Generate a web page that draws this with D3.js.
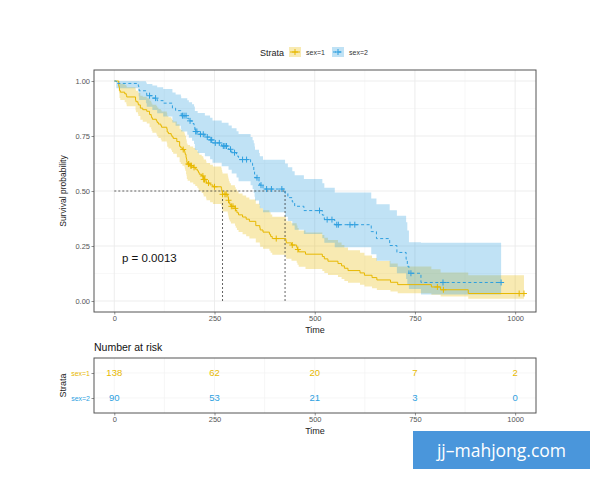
<!DOCTYPE html>
<head>
    <meta charset="utf-8">
    <title>Survival by sex</title>
    <script type="text/javascript" src="https://d3js.org/d3.v7.min.js"></script>
    <style>
        body { margin: 0; background: #fff; }
        svg text { font-family: "Liberation Sans", Arial, sans-serif; }
    </style>
</head>
<body>
<div id="container"></div>
<script>
    //-----------------------------DATA------------------------------//
    const strata = ["sex=1", "sex=2"];
    const colors = ["#E7B800", "#2E9FDF"];

    // sex=1 : event times, survival, 95% CI
    const times1 = [0, 11, 12, 13, 15, 26, 30, 31, 53, 54,
        59, 60, 65, 71, 81, 88, 92, 93, 95, 105,
        107, 110, 116, 118, 131, 132, 135, 142, 144, 147,
        156, 163, 166, 170, 175, 176, 177, 179, 180, 181,
        183, 189, 197, 202, 207, 210, 212, 218, 222, 223,
        229, 230, 239, 246, 267, 268, 269, 270, 283, 284,
        285, 286, 288, 291, 301, 303, 306, 310, 320, 329,
        337, 353, 363, 364, 371, 387, 390, 394, 428, 429,
        442, 455, 457, 460, 477, 519, 524, 533, 558, 567,
        574, 583, 613, 624, 643, 655, 689, 707, 791, 814,
        883];
    const surv1 = [1, .9783, .9710, .9565, .9493, .9420, .9348, .9275, .9130, .9058,
        .8986, .8913, .8768, .8696, .8623, .8478, .8406, .8333, .8261, .8188,
        .8116, .8043, .7971, .7899, .7826, .7681, .7609, .7536, .7464, .7391,
        .7246, .7029, .6957, .6884, .6811, .6738, .6664, .6518, .6445, .6298,
        .6225, .6150, .6073, .5995, .5917, .5839, .5762, .5684, .5605, .5525,
        .5442, .5360, .5276, .5192, .5107, .5022, .4937, .4850, .4760, .4670,
        .4579, .4487, .4396, .4304, .4209, .4111, .4013, .3915, .3817, .3719,
        .3621, .3425, .3327, .3229, .3131, .3034, .2936, .2838, .2740, .2642,
        .2544, .2442, .2341, .2234, .2128, .2022, .1915, .1809, .1702, .1596,
        .1489, .1383, .1277, .1170, .1064, .0957, .0851, .0745, .0638, .0511,
        .0340];
    const lower1 = [1, .9542, .9434, .9231, .9134, .9038, .8945, .8853, .8672, .8583,
        .8496, .8409, .8237, .8152, .8067, .7900, .7817, .7734, .7652, .7570,
        .7489, .7408, .7328, .7247, .7167, .7008, .6929, .6851, .6772, .6694,
        .6538, .6306, .6230, .6153, .6076, .5999, .5922, .5769, .5693, .5541,
        .5466, .5388, .5309, .5228, .5148, .5068, .4988, .4909, .4829, .4747,
        .4663, .4579, .4494, .4409, .4323, .4238, .4152, .4065, .3975, .3885,
        .3792, .3701, .3610, .3520, .3424, .3327, .3230, .3133, .3037, .2941,
        .2846, .2657, .2563, .2470, .2376, .2284, .2193, .2101, .2011, .1922,
        .1833, .1740, .1648, .1553, .1458, .1364, .1272, .1181, .1090, .1001,
        .0914, .0828, .0743, .0661, .0581, .0503, .0427, .0354, .0284, .0202,
        .0099];
    const upper1 = [1, 1, .999, .991, .987, .982, .977, .972, .961, .956,
        .950, .945, .933, .928, .922, .910, .904, .898, .892, .886,
        .880, .873, .867, .861, .855, .842, .835, .829, .823, .816,
        .803, .783, .777, .770, .763, .757, .750, .736, .730, .716,
        .709, .702, .695, .687, .680, .673, .665, .658, .651, .643,
        .635, .627, .619, .611, .603, .595, .587, .579, .570, .561,
        .553, .544, .535, .526, .517, .508, .499, .489, .480, .470,
        .461, .442, .432, .422, .413, .403, .393, .383, .373, .363,
        .353, .343, .332, .321, .311, .300, .288, .277, .266, .254,
        .243, .231, .219, .207, .195, .182, .170, .157, .144, .129,
        .117];
    const censor1 = [172, 185, 186, 191, 192, 199, 221, 223, 225, 226, 235, 250, 270,
        276, 279, 285, 292, 296, 302, 404, 444, 458, 806, 821, 1010, 1022];

    // sex=2
    const times2 = [0, 5, 60, 61, 62, 79, 81, 95, 107, 122,
        145, 153, 166, 167, 182, 186, 194, 199, 201, 208,
        226, 239, 245, 268, 285, 293, 305, 310, 340, 345,
        348, 350, 351, 361, 363, 371, 426, 433, 444, 450,
        473, 519, 524, 550, 641, 654, 687, 705, 728, 731,
        735, 765];
    const surv2 = [1, .9889, .9778, .9667, .9556, .9444, .9333, .9221, .9107, .8993,
        .8766, .8652, .8538, .8424, .8305, .8187, .8066, .7946, .7705, .7581,
        .7452, .7322, .7186, .7045, .6895, .6742, .6585, .6428, .6264, .6099,
        .5934, .5769, .5604, .5434, .5265, .5089, .4893, .4698, .4502, .4306,
        .4110, .3905, .3699, .3468, .3153, .2837, .2522, .2207, .1891, .1576,
        .1261, .0841];
    const lower2 = [1, .9675, .9478, .9303, .9139, .8983, .8832, .8683, .8535, .8390,
        .8108, .7970, .7834, .7699, .7559, .7420, .7280, .7142, .6869, .6729,
        .6584, .6438, .6287, .6129, .5962, .5791, .5618, .5447, .5267, .5089,
        .4913, .4739, .4566, .4390, .4215, .4035, .3832, .3632, .3435, .3241,
        .3050, .2850, .2650, .2440, .2130, .1830, .1540, .1260, .1000, .0750,
        .0550, .0300];
    const upper2 = [1, 1, 1, 1, .999, .993, .986, .979, .972, .964,
        .948, .939, .931, .922, .913, .903, .894, .884, .864, .854,
        .843, .833, .821, .810, .798, .785, .772, .759, .745, .731,
        .717, .702, .688, .673, .658, .642, .625, .608, .590, .572,
        .554, .535, .515, .493, .466, .440, .413, .387, .358, .320,
        .267, .265];
    const censor2 = [88, 103, 170, 174, 179, 189, 203, 206, 215, 222, 232, 241, 243,
        252, 262, 272, 276, 280, 290, 300, 320, 330, 356, 366, 380, 392, 418,
        512, 531, 543, 555, 559, 588, 600, 740, 820, 965];

    const medians = [270, 426];
    const pText = "p = 0.0013";

    // risk table
    const riskTimes = [0, 250, 500, 750, 1000];
    const risk1 = [138, 62, 20, 7, 2];
    const risk2 = [90, 53, 21, 3, 0];

    const xTicks = [0, 250, 500, 750, 1000];
    const xMinor = [125, 375, 625, 875];
    const yTicks = [0, 0.25, 0.5, 0.75, 1];
    const yMinor = [0.125, 0.375, 0.625, 0.875];

    //-----------------------------SVG-------------------------------//
    const width = 600, height = 480;
    const svg = d3.select("div#container").append("svg")
        .attr("width", width)
        .attr("height", height);

    const panel = {left: 94, right: 536, top: 70, bottom: 312};
    const table = {left: 94, right: 536, top: 358, bottom: 413};

    //----------------------------SCALES-----------------------------//
    const xScale = d3.scaleLinear().domain([-50.6, 1052]).range([panel.left, panel.right]);
    const yScale = d3.scaleLinear().domain([-0.05, 1.05]).range([panel.bottom, panel.top]);
    const yRisk = d3.scalePoint().domain(strata).range([table.top, table.bottom]).padding(0.6);

    const groups = [
        {id: strata[0], color: colors[0], dash: null, t: times1, s: surv1, lo: lower1, up: upper1, cens: censor1},
        {id: strata[1], color: colors[1], dash: "3,2.5", t: times2, s: surv2, lo: lower2, up: upper2, cens: censor2}
    ];
    groups.forEach(function(g) {
        g.pts = g.t.map(function(t, i) { return {t: t, s: g.s[i], lo: g.lo[i], up: g.up[i]}; });
        const last = g.pts[g.pts.length - 1];
        g.pts.push({t: d3.max(g.cens), s: last.s, lo: last.lo, up: last.up});
        g.at = function(t) { return g.s[d3.bisectRight(g.t, t) - 1]; };
    });

    //-------------------------MAIN PANEL----------------------------//
    const grid = svg.append("g");
    grid.selectAll(".vminor").data(xMinor).enter().append("line")
        .attr("x1", d => xScale(d)).attr("x2", d => xScale(d))
        .attr("y1", panel.top).attr("y2", panel.bottom)
        .attr("stroke", "#f3f3f3").attr("stroke-width", 0.6);
    grid.selectAll(".hminor").data(yMinor).enter().append("line")
        .attr("y1", d => yScale(d)).attr("y2", d => yScale(d))
        .attr("x1", panel.left).attr("x2", panel.right)
        .attr("stroke", "#f3f3f3").attr("stroke-width", 0.6);
    grid.selectAll(".vmajor").data(xTicks).enter().append("line")
        .attr("x1", d => xScale(d)).attr("x2", d => xScale(d))
        .attr("y1", panel.top).attr("y2", panel.bottom)
        .attr("stroke", "#ebebeb").attr("stroke-width", 0.9);
    grid.selectAll(".hmajor").data(yTicks).enter().append("line")
        .attr("y1", d => yScale(d)).attr("y2", d => yScale(d))
        .attr("x1", panel.left).attr("x2", panel.right)
        .attr("stroke", "#ebebeb").attr("stroke-width", 0.9);

    const band = d3.area().curve(d3.curveStepAfter)
        .x(d => xScale(d.t))
        .y0(d => yScale(d.lo))
        .y1(d => yScale(d.up));
    const line = d3.line().curve(d3.curveStepAfter)
        .x(d => xScale(d.t))
        .y(d => yScale(d.s));

    svg.selectAll(".band").data(groups).enter().append("path")
        .attr("d", d => band(d.pts))
        .attr("fill", d => d.color)
        .attr("fill-opacity", 0.3);

    // median lines
    const med = svg.append("g")
        .attr("stroke", "#222").attr("stroke-width", 0.7)
        .attr("stroke-dasharray", "2,2").attr("fill", "none");
    med.append("line")
        .attr("x1", xScale(0)).attr("x2", xScale(d3.max(medians)))
        .attr("y1", yScale(0.5)).attr("y2", yScale(0.5));
    med.selectAll(".vmed").data(medians).enter().append("line")
        .attr("x1", d => xScale(d)).attr("x2", d => xScale(d))
        .attr("y1", yScale(0.5)).attr("y2", yScale(0));

    svg.selectAll(".curve").data(groups).enter().append("path")
        .attr("d", d => line(d.pts))
        .attr("fill", "none")
        .attr("stroke", d => d.color)
        .attr("stroke-width", 1)
        .attr("stroke-dasharray", d => d.dash);

    // censor marks
    groups.forEach(function(g) {
        svg.append("g").selectAll("path").data(g.cens).enter().append("path")
            .attr("d", function(t) {
                const cx = xScale(t), cy = yScale(g.at(t));
                return `M${cx - 3},${cy}H${cx + 3}M${cx},${cy - 3}V${cy + 3}`;
            })
            .attr("stroke", g.color)
            .attr("stroke-width", 1);
    });

    svg.append("text")
        .attr("x", 122).attr("y", 262)
        .attr("font-size", 11.5).attr("fill", "#111")
        .text(pText);

    svg.append("rect")
        .attr("x", panel.left).attr("y", panel.top)
        .attr("width", panel.right - panel.left).attr("height", panel.bottom - panel.top)
        .attr("fill", "none").attr("stroke", "#555").attr("stroke-width", 1);

    //-----------------------------AXES------------------------------//
    function styleAxis(g) {
        g.select(".domain").remove();
        g.selectAll(".tick line").attr("stroke", "#444").attr("stroke-width", 0.6);
        g.selectAll(".tick text").attr("fill", "#555").attr("font-size", 7.5)
            .attr("font-family", '"Liberation Sans", Arial, sans-serif');
    }

    svg.append("g")
        .attr("transform", `translate(0, ${panel.bottom})`)
        .call(d3.axisBottom(xScale).tickValues(xTicks).tickFormat(d3.format("d")).tickSize(2.5).tickPadding(1.2))
        .call(styleAxis);
    svg.append("g")
        .attr("transform", `translate(${panel.left}, 0)`)
        .call(d3.axisLeft(yScale).tickValues(yTicks).tickFormat(d3.format(".2f")).tickSize(2.5).tickPadding(1.5))
        .call(styleAxis);

    svg.append("text")
        .attr("x", (panel.left + panel.right) / 2).attr("y", 333)
        .attr("text-anchor", "middle").attr("font-size", 9).attr("fill", "#222")
        .text("Time");
    svg.append("text")
        .attr("transform", `translate(66, ${(panel.top + panel.bottom) / 2}) rotate(-90)`)
        .attr("text-anchor", "middle").attr("font-size", 8.5).attr("fill", "#222")
        .text("Survival probability");

    //----------------------------LEGEND-----------------------------//
    const legend = svg.append("g");
    legend.append("text")
        .attr("x", 260).attr("y", 55.5)
        .attr("font-size", 9).attr("fill", "#222")
        .text("Strata");
    const keyX = [289, 332];
    groups.forEach(function(g, i) {
        const kx = keyX[i];
        legend.append("rect")
            .attr("x", kx).attr("y", 47).attr("width", 12).attr("height", 10)
            .attr("fill", g.color).attr("fill-opacity", 0.3);
        legend.append("line")
            .attr("x1", kx + 1).attr("x2", kx + 11).attr("y1", 52).attr("y2", 52)
            .attr("stroke", g.color).attr("stroke-width", 1)
            .attr("stroke-dasharray", g.dash);
        legend.append("path")
            .attr("d", `M${kx + 3},52H${kx + 9}M${kx + 6},49V55`)
            .attr("stroke", g.color).attr("stroke-width", 1);
        legend.append("text")
            .attr("x", kx + 17).attr("y", 54.5)
            .attr("font-size", 7).attr("fill", "#333")
            .text(g.id);
    });

    //--------------------------RISK TABLE---------------------------//
    svg.append("text")
        .attr("x", table.left).attr("y", 351)
        .attr("font-size", 10.5).attr("fill", "#111")
        .text("Number at risk");

    const tgrid = svg.append("g");
    tgrid.selectAll(".v").data(xTicks.concat(xMinor)).enter().append("line")
        .attr("x1", d => xScale(d)).attr("x2", d => xScale(d))
        .attr("y1", table.top).attr("y2", table.bottom)
        .attr("stroke", "#f2f2f2").attr("stroke-width", 0.7);
    tgrid.selectAll(".h").data(strata).enter().append("line")
        .attr("x1", table.left).attr("x2", table.right)
        .attr("y1", d => yRisk(d)).attr("y2", d => yRisk(d))
        .attr("stroke", "#f2f2f2").attr("stroke-width", 0.7);

    const riskRows = [risk1, risk2];
    riskRows.forEach(function(row, i) {
        svg.append("g").selectAll("text").data(row).enter().append("text")
            .attr("x", (d, j) => xScale(riskTimes[j]))
            .attr("y", yRisk(strata[i]))
            .attr("dy", "0.35em")
            .attr("text-anchor", "middle")
            .attr("font-size", 9.5)
            .attr("fill", colors[i])
            .text(d => d);
    });

    svg.append("rect")
        .attr("x", table.left).attr("y", table.top)
        .attr("width", table.right - table.left).attr("height", table.bottom - table.top)
        .attr("fill", "none").attr("stroke", "#555").attr("stroke-width", 1);

    svg.append("g")
        .attr("transform", `translate(0, ${table.bottom})`)
        .call(d3.axisBottom(xScale).tickValues(xTicks).tickFormat(d3.format("d")).tickSize(2.5).tickPadding(1.2))
        .call(styleAxis);
    const ry = svg.append("g")
        .attr("transform", `translate(${table.left}, 0)`)
        .call(d3.axisLeft(yRisk).tickSize(2.5).tickPadding(1.5))
        .call(styleAxis);
    ry.selectAll(".tick text").attr("font-size", 7).attr("fill", (d, i) => colors[i]);

    svg.append("text")
        .attr("x", (table.left + table.right) / 2).attr("y", 434)
        .attr("text-anchor", "middle").attr("font-size", 9).attr("fill", "#222")
        .text("Time");
    svg.append("text")
        .attr("transform", `translate(66, ${(table.top + table.bottom) / 2}) rotate(-90)`)
        .attr("text-anchor", "middle").attr("font-size", 9).attr("fill", "#222")
        .text("Strata");

    //---------------------------WATERMARK---------------------------//
    svg.append("rect")
        .attr("x", 413).attr("y", 431).attr("width", 177).attr("height", 38)
        .attr("fill", "#4A96DB");
    svg.append("text")
        .attr("x", 501.5).attr("y", 456.5)
        .attr("text-anchor", "middle")
        .attr("font-size", 17.5)
        .attr("fill", "#fff")
        .style("font-family", '"Open Sans", "Noto Sans", sans-serif')
        .text("jj–mahjong.com");
</script>
</body>
